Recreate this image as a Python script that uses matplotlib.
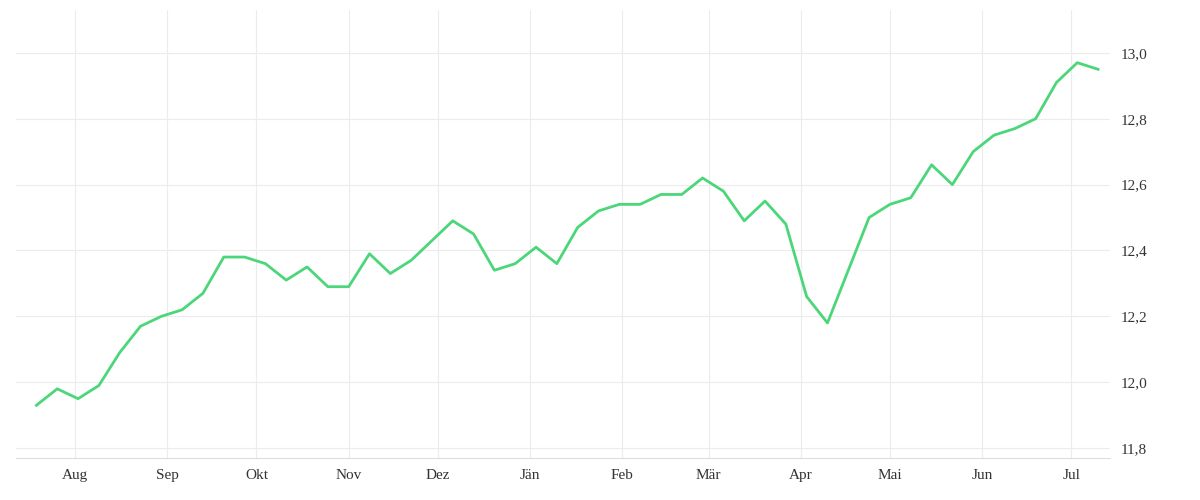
import numpy as np
import pandas as pd
import matplotlib.pyplot as plt
import matplotlib.dates as mdates

dates = pd.date_range('2023-07-19', periods=52, freq='7D')
values = [11.93, 11.98, 11.95, 11.99, 12.09, 12.17, 12.20, 12.22, 12.27, 12.38,
          12.38, 12.36, 12.31, 12.35, 12.29, 12.29, 12.39, 12.33, 12.37, 12.43,
          12.49, 12.45, 12.34, 12.36, 12.41, 12.36, 12.47, 12.52, 12.54, 12.54,
          12.57, 12.57, 12.62, 12.58, 12.49, 12.55, 12.48, 12.26, 12.18, 12.34,
          12.50, 12.54, 12.56, 12.66, 12.60, 12.70, 12.75, 12.77, 12.80, 12.91,
          12.97, 12.95]
month_labels = ['Aug', 'Sep', 'Okt', 'Nov', 'Dez', 'Jän', 'Feb', 'Mär', 'Apr', 'Mai', 'Jun', 'Jul']
month_ticks = pd.date_range('2023-08-01', periods=12, freq='MS')
y_ticks = [11.8, 12.0, 12.2, 12.4, 12.6, 12.8, 13.0]

plt.rcParams['font.family'] = ['Liberation Serif', 'DejaVu Serif']
fig = plt.figure(figsize=(12, 5), dpi=100)
ax = fig.add_axes([0.013, 0.084, 0.912, 0.896])

ax.plot(dates, values, color='#4cd67a', lw=2.0)

ax.set_xlim(pd.Timestamp('2023-07-12'), pd.Timestamp('2024-07-14'))
ax.set_ylim(11.77, 13.13)
ax.set_xticks(month_ticks)
ax.set_xticklabels(month_labels)
ax.set_yticks(y_ticks)
ax.set_yticklabels([f'{v:.1f}'.replace('.', ',') for v in y_ticks])
ax.yaxis.tick_right()
ax.grid(True, color='#ececec', lw=0.8)
ax.tick_params(colors='#333333', labelsize=11, length=0, pad=8)
for side in ['top', 'left', 'right']:
    ax.spines[side].set_visible(False)
ax.spines['bottom'].set_color('#dddddd')

fig.savefig('out.png')
